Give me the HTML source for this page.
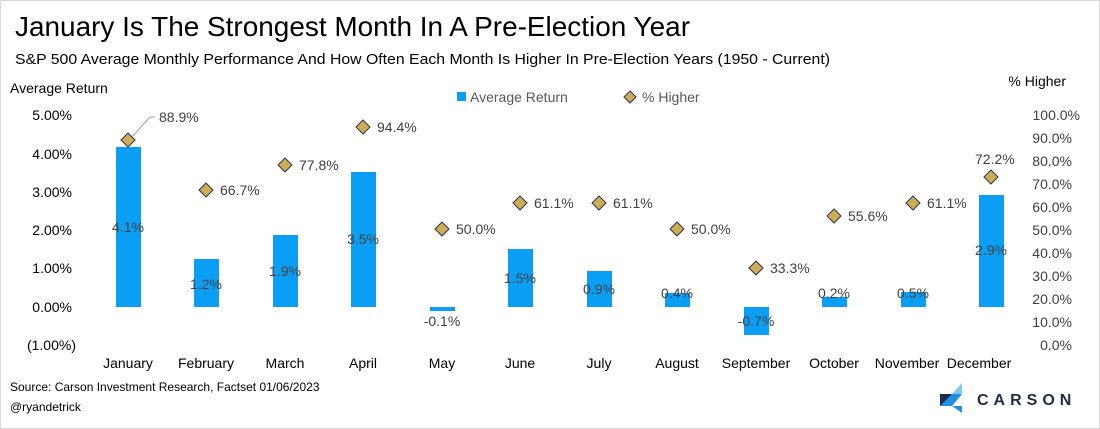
<!DOCTYPE html>
<html><head><meta charset="utf-8"><style>
html,body{margin:0;padding:0;background:#fff;}
svg{display:block;font-family:"Liberation Sans",sans-serif;}
</style></head><body>
<svg width="1100" height="429" viewBox="0 0 1100 429" xmlns="http://www.w3.org/2000/svg">
<rect x="0.5" y="0.5" width="1099" height="428" fill="#fff" stroke="#d9d9d9"/>
<text x="15" y="36" font-size="28" fill="#000" textLength="675" lengthAdjust="spacingAndGlyphs">January Is The Strongest Month In A Pre-Election Year</text>
<text x="15" y="64" font-size="15" fill="#000" textLength="815" lengthAdjust="spacingAndGlyphs">S&amp;P 500 Average Monthly Performance And How Often Each Month Is Higher In Pre-Election Years (1950 - Current)</text>
<text x="10" y="93" font-size="14" fill="#000">Average Return</text>
<text x="1066" y="86" font-size="14" fill="#000" text-anchor="end">% Higher</text>
<g font-size="14" fill="#000" text-anchor="end">
<text x="72" y="120">5.00%</text><text x="72" y="159">4.00%</text><text x="72" y="197">3.00%</text><text x="72" y="235">2.00%</text><text x="72" y="273">1.00%</text><text x="72" y="312">0.00%</text><text x="76" y="350">(1.00%)</text>
</g>
<g font-size="14" fill="#404040" text-anchor="end">
<text x="1080" y="120">100.0%</text><text x="1072" y="143">90.0%</text><text x="1072" y="166">80.0%</text><text x="1072" y="189">70.0%</text><text x="1072" y="212">60.0%</text><text x="1072" y="235">50.0%</text><text x="1072" y="258">40.0%</text><text x="1072" y="281">30.0%</text><text x="1072" y="304">20.0%</text><text x="1072" y="327">10.0%</text><text x="1072" y="350">0.0%</text>
</g>
<rect x="457" y="92" width="9" height="9" fill="#0a9ff5"/>
<text x="470" y="102" font-size="14" fill="#595959">Average Return</text>
<polygon points="630,91 636,97 630,103 624,97" fill="#cfad55" stroke="#2b3550" stroke-width="1"/>
<text x="642" y="102" font-size="14" fill="#595959">% Higher</text>
<g fill="#0a9ff5">
<rect x="116" y="147" width="25" height="160"/>
<rect x="194" y="259" width="25" height="48"/>
<rect x="273" y="235" width="25" height="72"/>
<rect x="351" y="172" width="25" height="135"/>
<rect x="430" y="307" width="25" height="4"/>
<rect x="508" y="249" width="25" height="58"/>
<rect x="587" y="271" width="25" height="36"/>
<rect x="665" y="293" width="25" height="14"/>
<rect x="744" y="307" width="25" height="28"/>
<rect x="822" y="297" width="25" height="10"/>
<rect x="901" y="292" width="25" height="15"/>
<rect x="979" y="195" width="25" height="112"/>
</g>
<g font-size="14" fill="#404040" text-anchor="middle">
<text x="128" y="232">4.1%</text><text x="206" y="289">1.2%</text><text x="285" y="276">1.9%</text><text x="363" y="244">3.5%</text><text x="442" y="326">-0.1%</text><text x="520" y="283">1.5%</text><text x="599" y="294">0.9%</text><text x="677" y="298">0.4%</text><text x="756" y="326">-0.7%</text><text x="834" y="298">0.2%</text><text x="913" y="298">0.5%</text><text x="991" y="255">2.9%</text>
</g>
<g font-size="14" fill="#000" text-anchor="middle">
<text x="128" y="368">January</text><text x="206" y="368">February</text><text x="285" y="368">March</text><text x="363" y="368">April</text><text x="442" y="368">May</text><text x="520" y="368">June</text><text x="599" y="368">July</text><text x="677" y="368">August</text><text x="756" y="368">September</text><text x="834" y="368">October</text><text x="907" y="368">November</text><text x="979" y="368">December</text>
</g>
<polyline points="129,140 150,117 155,117" fill="none" stroke="#a6a6a6" stroke-width="1"/>
<g fill="#cfad55" stroke="#2b3550" stroke-width="1">
<polygon points="128,133 135,140 128,147 121,140"/>
<polygon points="206,183 213,190 206,197 199,190"/>
<polygon points="285,158 292,165 285,172 278,165"/>
<polygon points="363,120 370,127 363,134 356,127"/>
<polygon points="442,222 449,229 442,236 435,229"/>
<polygon points="520,196 527,203 520,210 513,203"/>
<polygon points="599,196 606,203 599,210 592,203"/>
<polygon points="677,222 684,229 677,236 670,229"/>
<polygon points="756,261 763,268 756,275 749,268"/>
<polygon points="834,209 841,216 834,223 827,216"/>
<polygon points="913,196 920,203 913,210 906,203"/>
<polygon points="991,170 998,177 991,184 984,177"/>
</g>
<g font-size="14" fill="#404040">
<text x="159" y="122">88.9%</text><text x="220" y="195">66.7%</text><text x="299" y="170">77.8%</text><text x="377" y="132">94.4%</text><text x="456" y="234">50.0%</text><text x="534" y="208">61.1%</text><text x="613" y="208">61.1%</text><text x="691" y="234">50.0%</text><text x="770" y="273">33.3%</text><text x="848" y="221">55.6%</text><text x="927" y="208">61.1%</text><text x="975" y="164">72.2%</text>
</g>
<text x="10" y="391" font-size="12" fill="#000">Source: Carson Investment Research, Factset 01/06/2023</text>
<text x="10" y="411" font-size="12" fill="#000">@ryandetrick</text>
<polygon points="962,383 952,394 962,394" fill="#7ec8f8"/>
<polygon points="940,394 952,394 962,394 952,406 940,406" fill="#1e90e8"/>
<polygon points="940,394 952,394 940,406" fill="#1b2d4a"/>
<polygon points="952,406 962,413 962,406" fill="#1e90e8"/>
<text x="977" y="405" font-size="16" fill="#1b2d4a" letter-spacing="5" font-weight="bold">CARSON</text>
</svg>
</body></html>
